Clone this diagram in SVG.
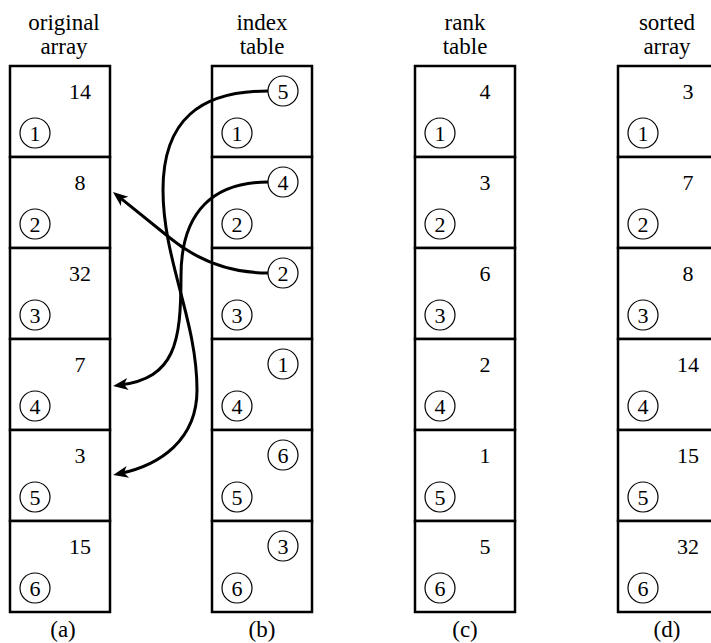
<svg xmlns="http://www.w3.org/2000/svg" width="711" height="643" viewBox="0 0 711 643">
<style>
text{font-family:'Liberation Serif','DejaVu Serif',serif;fill:#000}
.lbl{font-size:23px;text-anchor:middle}
.num{font-size:22px;text-anchor:middle}
.cn{font-size:22px;text-anchor:middle}
.cell{fill:#fff;stroke:#000;stroke-width:2.5}
.circ{fill:none;stroke:#000;stroke-width:1.2}
.conn{fill:none;stroke:#000;stroke-width:3}
</style>
<defs>
<marker id="ah" markerUnits="userSpaceOnUse" markerWidth="20" markerHeight="14" viewBox="-17 -7 20 14" refX="-7" refY="0" orient="auto">
<path d="M0,0 L-15,-6 L-11,0 L-15,6 z" fill="#000"/>
</marker>
</defs>
<rect width="711" height="643" fill="#fff"/>
<g font-family="Liberation Serif, DejaVu Serif, serif">
<g id="labels">
<text class="lbl" x="64" y="30">original</text><text class="lbl" x="64" y="54">array</text>
<text class="lbl" x="262" y="30">index</text><text class="lbl" x="262" y="54">table</text>
<text class="lbl" x="465" y="30">rank</text><text class="lbl" x="465" y="54">table</text>
<text class="lbl" x="667" y="30">sorted</text><text class="lbl" x="667" y="54">array</text>
<text class="lbl" x="63" y="637">(a)</text>
<text class="lbl" x="262" y="637">(b)</text>
<text class="lbl" x="465" y="637">(c)</text>
<text class="lbl" x="667" y="637">(d)</text>
</g>

<g id="col-a">
<g id="a1"><rect class="cell" x="10" y="66" width="100" height="91"/><text class="num" x="80" y="99">14</text><circle class="circ" cx="35" cy="133" r="15"/><text class="cn" x="35" y="140.5">1</text></g>
<g id="a2"><rect class="cell" x="10" y="157" width="100" height="91"/><text class="num" x="80" y="190">8</text><circle class="circ" cx="35" cy="224" r="15"/><text class="cn" x="35" y="231.5">2</text></g>
<g id="a3"><rect class="cell" x="10" y="248" width="100" height="91"/><text class="num" x="80" y="281">32</text><circle class="circ" cx="35" cy="315" r="15"/><text class="cn" x="35" y="322.5">3</text></g>
<g id="a4"><rect class="cell" x="10" y="339" width="100" height="91"/><text class="num" x="80" y="372">7</text><circle class="circ" cx="35" cy="406" r="15"/><text class="cn" x="35" y="413.5">4</text></g>
<g id="a5"><rect class="cell" x="10" y="430" width="100" height="91"/><text class="num" x="80" y="463">3</text><circle class="circ" cx="35" cy="497" r="15"/><text class="cn" x="35" y="504.5">5</text></g>
<g id="a6"><rect class="cell" x="10" y="521" width="100" height="91"/><text class="num" x="80" y="554">15</text><circle class="circ" cx="35" cy="588" r="15"/><text class="cn" x="35" y="595.5">6</text></g>
</g>

<g id="col-b">
<g id="b1"><rect class="cell" x="212" y="66" width="100" height="91"/><circle class="circ" cx="283" cy="91" r="15"/><text class="cn" x="283" y="98.5">5</text><circle class="circ" cx="237" cy="133" r="15"/><text class="cn" x="237" y="140.5">1</text></g>
<g id="b2"><rect class="cell" x="212" y="157" width="100" height="91"/><circle class="circ" cx="283" cy="182" r="15"/><text class="cn" x="283" y="189.5">4</text><circle class="circ" cx="237" cy="224" r="15"/><text class="cn" x="237" y="231.5">2</text></g>
<g id="b3"><rect class="cell" x="212" y="248" width="100" height="91"/><circle class="circ" cx="283" cy="273" r="15"/><text class="cn" x="283" y="280.5">2</text><circle class="circ" cx="237" cy="315" r="15"/><text class="cn" x="237" y="322.5">3</text></g>
<g id="b4"><rect class="cell" x="212" y="339" width="100" height="91"/><circle class="circ" cx="283" cy="364" r="15"/><text class="cn" x="283" y="371.5">1</text><circle class="circ" cx="237" cy="406" r="15"/><text class="cn" x="237" y="413.5">4</text></g>
<g id="b5"><rect class="cell" x="212" y="430" width="100" height="91"/><circle class="circ" cx="283" cy="455" r="15"/><text class="cn" x="283" y="462.5">6</text><circle class="circ" cx="237" cy="497" r="15"/><text class="cn" x="237" y="504.5">5</text></g>
<g id="b6"><rect class="cell" x="212" y="521" width="100" height="91"/><circle class="circ" cx="283" cy="546" r="15"/><text class="cn" x="283" y="553.5">3</text><circle class="circ" cx="237" cy="588" r="15"/><text class="cn" x="237" y="595.5">6</text></g>
</g>

<g id="col-c">
<g id="c1"><rect class="cell" x="415" y="66" width="100" height="91"/><text class="num" x="485" y="99">4</text><circle class="circ" cx="440" cy="133" r="15"/><text class="cn" x="440" y="140.5">1</text></g>
<g id="c2"><rect class="cell" x="415" y="157" width="100" height="91"/><text class="num" x="485" y="190">3</text><circle class="circ" cx="440" cy="224" r="15"/><text class="cn" x="440" y="231.5">2</text></g>
<g id="c3"><rect class="cell" x="415" y="248" width="100" height="91"/><text class="num" x="485" y="281">6</text><circle class="circ" cx="440" cy="315" r="15"/><text class="cn" x="440" y="322.5">3</text></g>
<g id="c4"><rect class="cell" x="415" y="339" width="100" height="91"/><text class="num" x="485" y="372">2</text><circle class="circ" cx="440" cy="406" r="15"/><text class="cn" x="440" y="413.5">4</text></g>
<g id="c5"><rect class="cell" x="415" y="430" width="100" height="91"/><text class="num" x="485" y="463">1</text><circle class="circ" cx="440" cy="497" r="15"/><text class="cn" x="440" y="504.5">5</text></g>
<g id="c6"><rect class="cell" x="415" y="521" width="100" height="91"/><text class="num" x="485" y="554">5</text><circle class="circ" cx="440" cy="588" r="15"/><text class="cn" x="440" y="595.5">6</text></g>
</g>

<g id="col-d">
<g id="d1"><rect class="cell" x="618" y="66" width="100" height="91"/><text class="num" x="688" y="99">3</text><circle class="circ" cx="643" cy="133" r="15"/><text class="cn" x="643" y="140.5">1</text></g>
<g id="d2"><rect class="cell" x="618" y="157" width="100" height="91"/><text class="num" x="688" y="190">7</text><circle class="circ" cx="643" cy="224" r="15"/><text class="cn" x="643" y="231.5">2</text></g>
<g id="d3"><rect class="cell" x="618" y="248" width="100" height="91"/><text class="num" x="688" y="281">8</text><circle class="circ" cx="643" cy="315" r="15"/><text class="cn" x="643" y="322.5">3</text></g>
<g id="d4"><rect class="cell" x="618" y="339" width="100" height="91"/><text class="num" x="688" y="372">14</text><circle class="circ" cx="643" cy="406" r="15"/><text class="cn" x="643" y="413.5">4</text></g>
<g id="d5"><rect class="cell" x="618" y="430" width="100" height="91"/><text class="num" x="688" y="463">15</text><circle class="circ" cx="643" cy="497" r="15"/><text class="cn" x="643" y="504.5">5</text></g>
<g id="d6"><rect class="cell" x="618" y="521" width="100" height="91"/><text class="num" x="688" y="554">32</text><circle class="circ" cx="643" cy="588" r="15"/><text class="cn" x="643" y="595.5">6</text></g>
</g>
</g>

<g id="connectors">
<path class="conn" marker-end="url(#ah)" d="M268,91 C200,91 163,120 163,190 C163,260 197,320 197,390 C197,440 160,465 120,473.5"/>
<path class="conn" marker-end="url(#ah)" d="M268,182 C215,182 181,210 181,276 C181,343 175,378 120,385"/>
<path class="conn" marker-end="url(#ah)" d="M268,273 C228,273 197,260 170,238 L118.4,196.4"/>
</g>
</svg>
